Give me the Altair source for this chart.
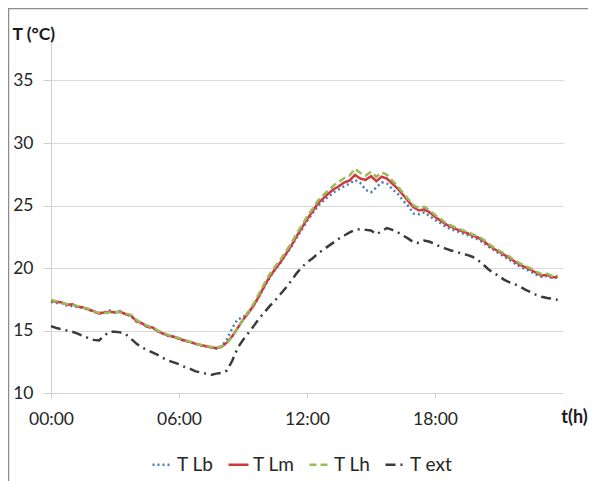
import altair as alt
import pandas as pd

# time grid (hours, 15-minute steps)
hours = [i * 0.25 for i in range(96)]

t_lb = [17.30, 17.20, 17.20, 17.00, 16.95, 16.90, 16.80, 16.65, 16.50, 16.40, 16.45, 16.60,
        16.45, 16.55, 16.30, 16.15, 15.75, 15.55, 15.30, 15.20, 14.95, 14.75, 14.55, 14.50,
        14.35, 14.15, 14.10, 13.95, 13.80, 13.75, 13.65, 13.55, 13.75, 14.30, 15.20, 15.90,
        16.05, 16.45, 17.00, 17.70, 18.50, 19.25, 19.85, 20.40, 21.05, 21.65, 22.40, 23.05,
        23.75, 24.35, 24.95, 25.35, 25.70, 26.05, 26.30, 26.55, 26.75, 27.05, 26.80, 26.25,
        26.05, 26.45, 26.85, 26.75, 26.30, 25.95, 25.40, 24.95, 24.35, 24.30, 24.45, 24.15,
        23.85, 23.60, 23.30, 23.10, 22.95, 22.80, 22.65, 22.45, 22.30, 22.05, 21.70, 21.45,
        21.15, 20.90, 20.65, 20.35, 20.10, 19.90, 19.70, 19.45, 19.30, 19.35, 19.20, 19.25]

t_lm = [17.40, 17.30, 17.25, 17.05, 17.10, 16.90, 16.85, 16.70, 16.55, 16.35, 16.45, 16.50,
        16.45, 16.50, 16.30, 16.20, 15.75, 15.60, 15.30, 15.25, 14.95, 14.75, 14.60, 14.50,
        14.35, 14.20, 14.10, 13.95, 13.85, 13.75, 13.65, 13.60, 13.70, 14.05, 14.55, 15.20,
        15.85, 16.40, 17.00, 17.75, 18.55, 19.30, 19.90, 20.45, 21.10, 21.75, 22.50, 23.20,
        23.90, 24.50, 25.15, 25.55, 25.95, 26.30, 26.55, 26.85, 27.00, 27.45, 27.15, 27.05,
        27.35, 26.95, 27.30, 27.15, 26.75, 26.35, 25.85, 25.35, 24.85, 24.60, 24.70, 24.45,
        24.10, 23.80, 23.50, 23.30, 23.10, 22.95, 22.80, 22.60, 22.45, 22.20, 21.85, 21.55,
        21.30, 21.05, 20.80, 20.50, 20.25, 20.05, 19.85, 19.60, 19.40, 19.45, 19.25, 19.30]

t_lh = [17.45, 17.35, 17.20, 17.10, 17.05, 16.95, 16.80, 16.75, 16.55, 16.40, 16.40, 16.45,
        16.50, 16.45, 16.35, 16.25, 15.85, 15.60, 15.40, 15.25, 15.00, 14.80, 14.65, 14.50,
        14.40, 14.25, 14.10, 14.00, 13.85, 13.80, 13.70, 13.60, 13.70, 14.00, 14.50, 15.20,
        15.90, 16.50, 17.15, 17.95, 18.75, 19.50, 20.10, 20.65, 21.30, 21.95, 22.70, 23.40,
        24.10, 24.70, 25.35, 25.80, 26.20, 26.60, 26.90, 27.20, 27.40, 27.95, 27.60, 27.40,
        27.70, 27.30, 27.65, 27.45, 27.00, 26.55, 26.00, 25.50, 25.00, 24.80, 24.90, 24.60,
        24.25, 23.95, 23.60, 23.40, 23.20, 23.05, 22.90, 22.70, 22.55, 22.30, 21.95, 21.65,
        21.40, 21.15, 20.90, 20.60, 20.35, 20.15, 19.95, 19.70, 19.50, 19.55, 19.35, 19.40]

t_ext = [15.35, 15.20, 15.10, 15.00, 14.90, 14.75, 14.55, 14.40, 14.25, 14.20, 14.60, 14.90,
         14.90, 14.85, 14.70, 14.35, 13.95, 13.65, 13.45, 13.25, 13.05, 12.80, 12.60, 12.45,
         12.30, 12.10, 11.95, 11.75, 11.65, 11.55, 11.45, 11.55, 11.60, 11.80, 12.60, 13.60,
         14.25, 14.80, 15.35, 15.95, 16.45, 16.95, 17.40, 17.90, 18.40, 18.95, 19.55, 20.05,
         20.45, 20.75, 21.15, 21.45, 21.75, 22.05, 22.35, 22.60, 22.85, 23.05, 23.10, 23.05,
         23.00, 22.70, 22.95, 23.20, 23.05, 22.85, 22.60, 22.35, 22.05, 22.00, 22.20, 22.10,
         21.90, 21.70, 21.55, 21.40, 21.30, 21.15, 21.05, 20.90, 20.65, 20.30, 19.90, 19.60,
         19.35, 19.05, 18.85, 18.70, 18.50, 18.25, 18.05, 17.85, 17.70, 17.60, 17.55, 17.45]

series_names = ["T Lb", "T Lm", "T Lh", "T ext"]
series_colors = ["#4A7EBB", "#D0393B", "#9BBB59", "#3A3A3A"]
series_dashes = [[2, 3], [1, 0], [7, 4], [10, 5, 2, 5]]
y_ticks = [10, 15, 20, 25, 30, 35]
x_ticks = [0, 6, 12, 18]

rows = []
for name, vals in zip(series_names, [t_lb, t_lm, t_lh, t_ext]):
    for h, v in zip(hours, vals):
        rows.append({"h": h, "T": v, "serie": name})
df = pd.DataFrame(rows)

FONT = "Lato"
legend = alt.Legend(
    title=None, orient="none", direction="horizontal", legendX=100, legendY=410,
    symbolType="stroke", symbolSize=400, symbolStrokeWidth=2.5, labelFontSize=19,
    labelColor="#262626", labelFont=FONT, columnPadding=9, labelOffset=3,
)

lines = alt.Chart(df).mark_line(strokeWidth=2.5).encode(
    x=alt.X("h:Q", scale=alt.Scale(domain=[0, 24], nice=False),
            axis=alt.Axis(values=x_ticks, grid=False, labelFlush=False,
                          labelExpr="(datum.value < 10 ? '0' : '') + datum.value + ':00'",
                          tickSize=5, tickColor="#d0d0d0", domainColor="#d0d0d0",
                          labelPadding=12, labelFontSize=17.5, labelColor="#262626",
                          title="t(h)", titleX=523, titleY=24, titleAlign="center",
                          titleBaseline="middle", titleFontWeight="bold", titleFontSize=18,
                          titleColor="#1a1a1a")),
    y=alt.Y("T:Q", scale=alt.Scale(domain=[10, 38], nice=False, zero=False),
            axis=alt.Axis(values=y_ticks, grid=True, gridColor="#d9d9d9",
                          domainColor="#d0d0d0", tickColor="#d0d0d0", tickSize=8,
                          labelPadding=10, labelFontSize=17.5, labelColor="#262626",
                          labelFlush=False,
                          title="T (°C)", titleAngle=0, titleX=-39, titleY=-9,
                          titleAlign="left", titleBaseline="middle",
                          titleFontWeight="bold", titleFontSize=17.5, titleColor="#1a1a1a")),
    color=alt.Color("serie:N", scale=alt.Scale(domain=series_names, range=series_colors),
                    legend=legend),
    strokeDash=alt.StrokeDash("serie:N", scale=alt.Scale(domain=series_names, range=series_dashes),
                              legend=legend),
    detail="serie:N",
)

frame = pd.DataFrame({"a": [0]})
left_border = alt.Chart(frame).mark_rule(color="#8c8c8c", strokeWidth=1.5).encode(
    x=alt.value(-42.5), y=alt.value(-35), y2=alt.value(450))
top_border = alt.Chart(frame).mark_rule(color="#8c8c8c", strokeWidth=1.5).encode(
    x=alt.value(-43), x2=alt.value(540), y=alt.value(-34.5))

chart = alt.layer(lines, left_border, top_border).properties(
    width=512, height=350,
    autosize=alt.AutoSizeParams(type="none"),
    padding={"left": 43, "top": 35, "right": 25, "bottom": 88},
).configure(font=FONT).configure_view(stroke=None)

chart.save("out.html", embed_options={"renderer": "svg", "actions": False})
